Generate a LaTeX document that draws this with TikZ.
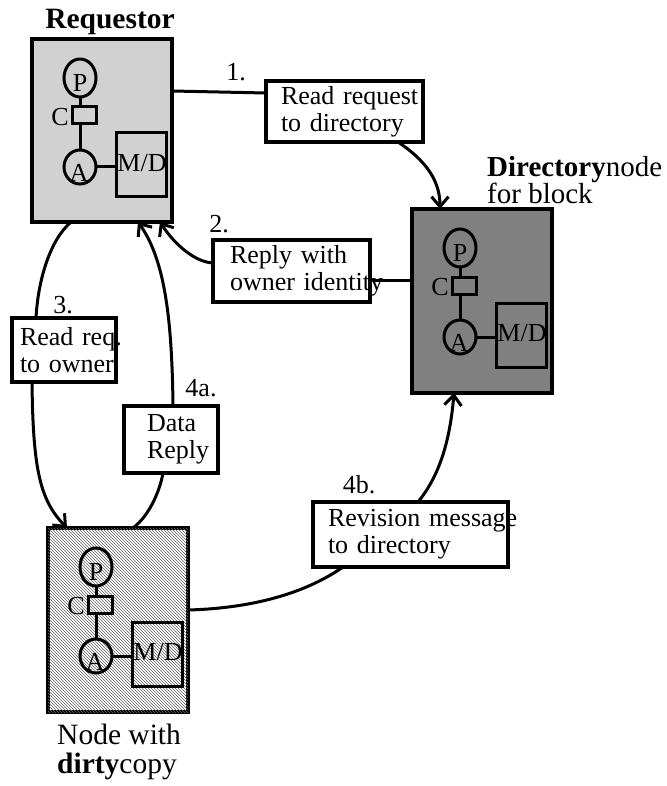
\documentclass[tikz,border=0pt]{standalone}
\usepackage{fontspec}
\setmainfont{Liberation Serif}
\usetikzlibrary{arrows.meta,patterns,calc}
\tikzset{
  every node/.style={font=\fontsize{26}{27}\selectfont},
  unitbox/.style={draw, line width=3.5pt, minimum width=140pt, minimum height=183pt,
    inner sep=0pt, outer sep=0pt, anchor=north west},
  reqfill/.style={fill=black!18},
  dirfill/.style={fill=black!50},
  dirtyfill/.style={fill=white, postaction={pattern=north west lines, pattern color=black!60}},
  msg/.style={draw, line width=3.5pt, fill=white, anchor=north west, align=left,
    outer sep=0pt, inner ysep=0pt},
  conn/.style={line width=3pt},
  arr/.style={conn, -{Straight Barb[length=10pt,width=17pt]}},
  inner/.style={line width=3pt},
  numlabel/.style={inner sep=0pt},
  cpu/.pic={
    \draw[inner] (48,58) -- (48,68);
    \draw[inner] (48,85) -- (48,111);
    \draw[inner] (48,39) ellipse [x radius=16pt, y radius=19pt];
    \draw[inner] (40,68) rectangle (64,85);
    \draw[inner] (48,128) ellipse [x radius=16pt, y radius=17pt];
    \draw[inner] (84,94) rectangle (134,158);
    \draw[inner] (64,128) -- (84,128);
    \node[inner sep=0pt] (-p) at (48,44) {P};
    \node[inner sep=0pt] (-a) at (47,134) {A};
    \node[inner sep=0pt] (-c) at (28,78) {C};
    \node[inner sep=0pt] (-md) at (110,124) {M/D};
  }
}
\begin{document}
\begin{tikzpicture}[x=1pt, y=-1pt]
\useasboundingbox (0,0) rectangle (666,786);

% main nodes
\node[unitbox, reqfill] (req) at (32,39) {};
\node[unitbox, dirfill, minimum height=184pt] (dir) at (412,209) {};
\node[unitbox, dirtyfill, minimum height=184pt] (dirty) at (48,528) {};
\pic (reqc) at (req.north west) {cpu};
\pic (dirc) at (dir.north west) {cpu};
\pic (dirtyc) at (dirty.north west) {cpu};

% node labels
\node[font=\bfseries\fontsize{29.5}{30}\selectfont, inner sep=0pt] (reqlabel) at (110,22) {Requestor};
\node[anchor=west, align=left, inner sep=0pt, font=\fontsize{29}{26}\selectfont] (dirlabel) at (487,180) {\textbf{Directory}node\\for block};
\node[anchor=west, align=left, inner sep=0pt, font=\fontsize{29.5}{29}\selectfont] (dirtylabel) at (57,752) {Node with\\\textbf{dirty}copy};

% message boxes
\node[msg, text width=127pt, inner xsep=15pt, minimum height=61pt] (m1) at (266,81) {\mbox{Read request}\\\mbox{to directory}};
\node[msg, text width=123pt, inner xsep=17pt, minimum height=62pt] (m2) at (213,240) {\mbox{Reply with}\\\mbox{owner identity}};
\node[msg, text width=88pt, inner xsep=8pt, minimum height=64pt] (m3) at (12,318) {\mbox{Read req.}\\\mbox{to owner}};
\node[msg, text width=48pt, inner xsep=23pt, minimum height=67pt] (m4) at (124,406) {\mbox{Data}\\\mbox{Reply}};
\node[msg, text width=165pt, inner xsep=15pt, minimum height=65pt] (m5) at (313,502) {\mbox{Revision message}\\\mbox{to directory}};

% step numbers
\node[numlabel] (n1) at (236,72) {1.};
\node[numlabel] (n2) at (219,224) {2.};
\node[numlabel] (n3) at (63,305) {3.};
\node[numlabel] (n4a) at (201,388) {4a.};
\node[numlabel] (n4b) at (359,485) {4b.};

% connectors
\draw[conn] ($(req.north east)+(0,52)$) -- ($(m1.north west)+(0,12)$);
\draw[conn] ($(dir.north west)+(0,71)$) -- ($(m2.north east)+(0,40)$);
\draw[arr] ($(m1.south east)+(-25,0)$) .. controls +(27,18) and +(0,-29) .. ($(dir.north west)+(28,0)$);
\draw[arr] ($(m2.north west)+(0,23)$) .. controls +(-18,-1) and +(15,23) .. ($(req.south east)+(-12,0)$);
\draw[conn] ($(req.south west)+(39,0)$) .. controls +(-21,18) and +(2,-38) .. ($(m3.north west)+(24,0)$);
\draw[arr] ($(m3.south west)+(20,0)$) .. controls +(1,88) and +(-27,-28) .. ($(dirty.north west)+(19,0)$);
\draw[conn] ($(dirty.north west)+(85,0)$) .. controls +(17,-13) and +(-3,17) .. ($(m4.south west)+(39,0)$);
\draw[arr] ($(m4.north west)+(49,0)$) .. controls +(-1,-86) and +(27,38) .. ($(req.south west)+(106,0)$);
\draw[conn] ($(dirty.north east)+(0,82)$) .. controls +(72,-2) and +(-33,23) .. ($(m5.south west)+(30,0)$);
\draw[arr] ($(m5.north west)+(105,0)$) .. controls +(22,-27) and +(-4,47) .. ($(dir.south west)+(42,0)$);
\end{tikzpicture}
\end{document}
